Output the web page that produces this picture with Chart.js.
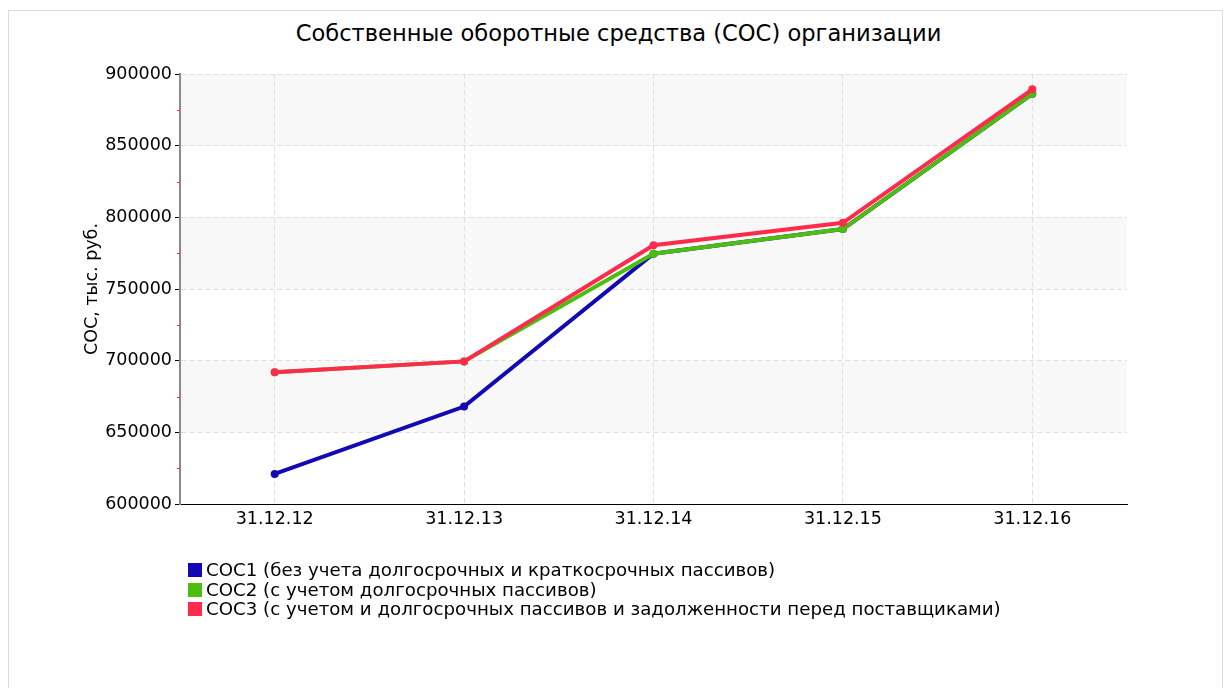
<!DOCTYPE html>
<html lang="ru">
<head>
<meta charset="utf-8">
<script src="https://cdn.jsdelivr.net/npm/chart.js@4.4.1/dist/chart.umd.min.js"></script>
<style>
  html, body { margin: 0; padding: 0; background: #fff; }
  body { width: 1224px; height: 688px; position: relative; overflow: hidden; font-family: "DejaVu Sans", sans-serif; }
  #frame { position: absolute; left: 8px; top: 10px; width: 1213px; height: 700px; border: 1px solid #dcdcdc; }
  #title { position: absolute; left: 0; top: 20px; width: 1237px; text-align: center; font-size: 22.6px; color: #000; }
  #wrap { position: absolute; left: 0; top: 0; width: 1224px; height: 688px; }
  #legend { position: absolute; left: 188px; top: 560px; font-size: 18.2px; color: #000; line-height: 19.5px; }
  #legend .item { white-space: nowrap; }
  #legend .box { display: inline-block; width: 14px; height: 14px; margin-right: 4px; vertical-align: -1px; }
</style>
</head>
<body>
<div id="frame"></div>
<div id="title">Собственные оборотные средства (СОС) организации</div>
<div id="wrap"><canvas id="chart" width="1224" height="688"></canvas></div>
<div id="legend"></div>
<script>
const dates = ['31.12.12', '31.12.13', '31.12.14', '31.12.15', '31.12.16'];
const coc1 = [621000, 668000, 774600, 791800, 886200];
const coc2 = [692000, 699500, 774600, 791800, 886200];
const coc3 = [692000, 699500, 780500, 796200, 889300];
const seriesNames = [
  'СОС1 (без учета долгосрочных и краткосрочных пассивов)',
  'СОС2 (с учетом долгосрочных пассивов)',
  'СОС3 (с учетом и долгосрочных пассивов и задолженности перед поставщиками)'
];
const colors = ['#1208b4', '#4cbe10', '#ff2a4c'];
const yMin = 600000, yMax = 900000, yStep = 50000;

const font = { family: '"DejaVu Sans", sans-serif', size: 17.5 };

// grey bands behind the plot + small red minor ticks on the y axis
const bandsPlugin = {
  id: 'bands',
  beforeDraw(chart) {
    const { ctx, chartArea, scales: { y } } = chart;
    ctx.save();
    ctx.fillStyle = '#f8f8f8';
    for (let v = yMin + yStep; v < yMax; v += 2 * yStep) {
      const top = y.getPixelForValue(v + yStep);
      const bottom = y.getPixelForValue(v);
      ctx.fillRect(chartArea.left, top, chartArea.right - chartArea.left, bottom - top);
    }
    ctx.restore();
  },
  afterDraw(chart) {
    const { ctx, chartArea, scales: { y } } = chart;
    ctx.save();
    ctx.strokeStyle = '#ff3030';
    ctx.lineWidth = 1;
    for (let v = yMin + yStep / 2; v < yMax; v += yStep) {
      const py = Math.round(y.getPixelForValue(v)) + 0.5;
      ctx.beginPath();
      ctx.moveTo(chartArea.left - 3, py);
      ctx.lineTo(chartArea.left, py);
      ctx.stroke();
    }
    ctx.restore();
  }
};

const datasets = [coc1, coc2, coc3].map((data, i) => ({
  label: seriesNames[i],
  data: data,
  borderColor: colors[i],
  backgroundColor: colors[i],
  borderWidth: 4,
  pointRadius: 4,
  pointBorderWidth: 0,
  pointHoverRadius: 4,
  tension: 0,
  order: 2 - i
}));

new Chart(document.getElementById('chart'), {
  type: 'line',
  data: { labels: dates, datasets: datasets },
  options: {
    responsive: false,
    animation: false,
    layout: { padding: { left: 0, right: 97, top: 74, bottom: 0 } },
    plugins: {
      legend: { display: false },
      title: { display: false },
      tooltip: { enabled: false }
    },
    scales: {
      x: {
        offset: true,
        grid: { offset: false, color: '#e0e0e0', drawTicks: false },
        border: { color: '#000', width: 1, dash: [5, 3] },
        ticks: { color: '#000', font: font, padding: 5 },
        afterFit(scale) { scale.height = 184; }
      },
      y: {
        min: yMin,
        max: yMax,
        grid: { color: '#e0e0e0', tickColor: '#000', tickBorderDash: [], tickLength: 5, tickWidth: 1 },
        border: { color: '#8a8a8a', width: 2, dash: [5, 3] },
        ticks: { stepSize: yStep, color: '#000', font: font, padding: 3, callback: v => String(v) },
        title: { display: true, text: 'СОС, тыс. руб.', color: '#000', font: font, padding: { top: 82, bottom: 0 } },
        afterFit(scale) { scale.width = 180; }
      }
    }
  },
  plugins: [bandsPlugin]
});

const legend = document.getElementById('legend');
seriesNames.forEach((name, i) => {
  const row = document.createElement('div');
  row.className = 'item';
  const box = document.createElement('span');
  box.className = 'box';
  box.style.background = colors[i];
  row.appendChild(box);
  row.appendChild(document.createTextNode(name));
  legend.appendChild(row);
});
</script>
</body>
</html>
